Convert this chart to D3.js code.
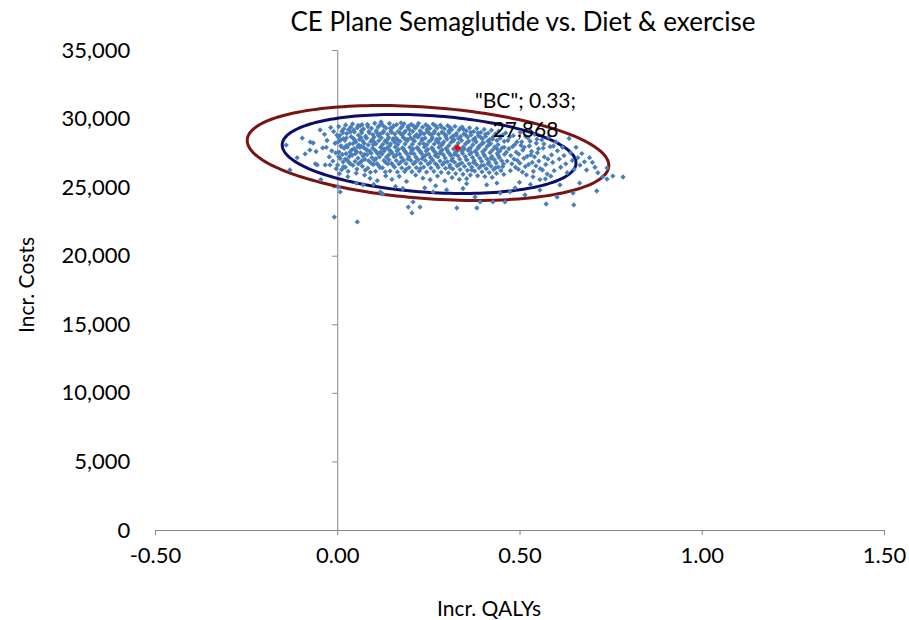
<!DOCTYPE html>
<html>
<head>
<meta charset="utf-8">
<script src="https://cdn.jsdelivr.net/npm/d3@7/dist/d3.min.js"></script>
<style>
  html, body { margin: 0; padding: 0; background: #fff; }
  svg { display: block; }
  text { font-family: Lato, "Open Sans", sans-serif; fill: #000; }
</style>
</head>
<body>
<svg id="chart" width="909" height="620"></svg>
<script>
// ---------------- DATA ----------------
const chartTitle = "CE Plane Semaglutide vs. Diet & exercise";
const xTitle = "Incr. QALYs";
const yTitle = "Incr. Costs";
const xTicks = [-0.5, 0, 0.5, 1.0, 1.5];
const xTickLabels = ["-0.50", "0.00", "0.50", "1.00", "1.50"];
const yTicks = [0, 5000, 10000, 15000, 20000, 25000, 30000, 35000];
const yTickLabels = ["0", "5,000", "10,000", "15,000", "20,000", "25,000", "30,000", "35,000"];

// base case point
const baseCase = [0.33, 27868];
const baseCaseLabel = ['"BC"; 0.33;', '27,868'];

// confidence ellipses: [centerQALY, centerCost, halfWidthQALY, halfHeightCost, tiltCost]
const innerEllipse = [0.252, 27420, 0.403, 2807, -656];
const outerEllipse = [0.249, 27490, 0.496, 3340, -911];

// PSA iterations (QALY, cost)
const leftTail = [
[-0.140,28070],[-0.130,26250],[-0.096,28580],[-0.110,27150],[-0.088,27420],[-0.066,28220],[-0.055,26620],
[-0.047,29170],[-0.040,27860],[-0.033,26620],[-0.020,26620],[-0.028,28400],[-0.015,27650],[-0.010,29050],
[-0.006,28200],[-0.022,27200],[-0.012,26900],[-0.004,27500],[-0.075,27700],[-0.035,28850],[-0.018,29350],
[-0.058,27600],[-0.003,26350],[-0.045,25550],[-0.001,28800],[-0.074,28290],[-0.060,26700],[-0.030,27900]
];
const coreCloud = [
[0.004,29420],[0.013,29080],[0.007,28760],[0.017,28530],[0.002,28290],[0.010,28010],[0.019,27830],[0.005,27560],[0.014,27380],[0.008,27090],[0.016,26840],[0.001,26610],[0.012,26270],[0.018,29250],[0.006,25980],[0.011,27960],[0.003,28650],
[0.023,29530],[0.031,29200],[0.026,28910],[0.038,28680],[0.021,28420],[0.034,28150],[0.028,27920],[0.039,27700],[0.024,27440],[0.033,27230],[0.027,26980],[0.036,26700],[0.022,26450],[0.030,26150],[0.037,29380],[0.025,28020],[0.035,27560],[0.029,25760],
[0.042,29610],[0.055,29330],[0.047,29020],[0.058,28790],[0.044,28560],[0.051,28290],[0.059,28070],[0.046,27810],[0.053,27590],[0.041,27320],[0.057,27110],[0.049,26880],[0.043,26590],[0.054,26320],[0.048,28430],[0.056,27950],[0.045,29180],[0.052,26020],[0.050,27680],
[0.063,29480],[0.072,29240],[0.067,28960],[0.078,28720],[0.061,28480],[0.074,28200],[0.066,27990],[0.079,27760],[0.064,27500],[0.071,27270],[0.076,27030],[0.062,26760],[0.069,26520],[0.077,26240],[0.065,28620],[0.073,27880],[0.068,29550],[0.075,25880],[0.070,28360],
[0.083,29570],[0.094,29290],[0.087,29060],[0.098,28820],[0.081,28590],[0.092,28330],[0.085,28080],[0.097,27850],[0.089,27620],[0.082,27380],[0.095,27150],[0.086,26920],[0.099,26650],[0.084,26380],[0.091,26080],[0.088,28950],[0.096,28470],[0.093,27480],[0.090,25640],
[0.103,29660],[0.112,29380],[0.107,29120],[0.118,28880],[0.101,28640],[0.114,28390],[0.106,28160],[0.119,27910],[0.104,27680],[0.111,27440],[0.116,27200],[0.102,26970],[0.109,26720],[0.117,26430],[0.105,26150],[0.113,28760],[0.108,27560],[0.115,29480],[0.110,25480],
[0.122,29590],[0.134,29310],[0.127,29080],[0.138,28850],[0.121,28600],[0.131,28370],[0.125,28120],[0.137,27880],[0.129,27650],[0.123,27420],[0.135,27190],[0.128,26950],[0.139,26690],[0.124,26410],[0.132,26110],[0.126,28980],[0.136,28250],[0.130,27770],[0.133,25820],[0.120,29750],
[0.143,29640],[0.152,29360],[0.147,29100],[0.158,28870],[0.141,28630],[0.154,28410],[0.146,28150],[0.159,27920],[0.144,27690],[0.151,27460],[0.156,27220],[0.142,26990],[0.149,26740],[0.157,26460],[0.145,26170],[0.153,28530],[0.148,27580],[0.155,29480],[0.150,25560],[0.144,28010],
[0.163,29560],[0.174,29290],[0.167,29050],[0.178,28800],[0.161,28580],[0.172,28340],[0.166,28110],[0.179,27870],[0.164,27640],[0.171,27410],[0.176,27170],[0.162,26940],[0.169,26690],[0.177,26400],[0.165,26110],[0.173,28930],[0.168,27760],[0.175,29690],[0.170,25790],
[0.183,29620],[0.194,29340],[0.187,29090],[0.198,28860],[0.181,28620],[0.192,28380],[0.186,28140],[0.199,27900],[0.184,27670],[0.191,27430],[0.196,27200],[0.182,26960],[0.189,26710],[0.197,26430],[0.185,26140],[0.193,28490],[0.188,27550],[0.195,29450],[0.190,25420],[0.184,28990],
[0.203,29580],[0.214,29300],[0.207,29060],[0.218,28830],[0.201,28590],[0.212,28350],[0.206,28120],[0.219,27880],[0.204,27650],[0.211,27420],[0.216,27180],[0.202,26950],[0.209,26700],[0.217,26420],[0.205,26130],[0.213,28700],[0.208,27780],[0.215,25870],[0.210,29440],
[0.223,29650],[0.234,29370],[0.227,29110],[0.238,28880],[0.221,28640],[0.232,28400],[0.226,28160],[0.239,27930],[0.224,27690],[0.231,27460],[0.236,27220],[0.222,26990],[0.229,26740],[0.237,26460],[0.225,26170],[0.233,28520],[0.228,27600],[0.235,25650],[0.230,29000],
[0.243,29550],[0.254,29280],[0.247,29040],[0.258,28810],[0.241,28570],[0.252,28330],[0.246,28100],[0.259,27860],[0.244,27630],[0.251,27400],[0.256,27160],[0.242,26930],[0.249,26680],[0.257,26400],[0.245,26100],[0.253,28920],[0.248,27750],[0.255,25540],[0.250,29420],
[0.263,29600],[0.274,29320],[0.267,29080],[0.278,28850],[0.261,28610],[0.272,28370],[0.266,28140],[0.279,27900],[0.264,27670],[0.271,27440],[0.276,27200],[0.262,26970],[0.269,26720],[0.277,26440],[0.265,26150],[0.273,28490],[0.268,27560],[0.275,25810],[0.270,29460],
[0.283,29520],[0.294,29250],[0.287,29010],[0.298,28780],[0.281,28540],[0.292,28300],[0.286,28070],[0.299,27830],[0.284,27600],[0.291,27370],[0.296,27130],[0.282,26900],[0.289,26650],[0.297,26370],[0.285,26080],[0.293,28900],[0.288,27710],[0.295,25460],[0.290,28180],
[0.303,29480],[0.314,29200],[0.307,28970],[0.318,28740],[0.301,28500],[0.312,28260],[0.306,28030],[0.319,27790],[0.304,27560],[0.311,27330],[0.316,27090],[0.302,26860],[0.309,26610],[0.317,26330],[0.305,26040],[0.313,28620],[0.308,27450],[0.315,25700],[0.310,29330],
[0.323,29430],[0.334,29160],[0.327,28920],[0.338,28690],[0.321,28450],[0.332,28210],[0.326,27980],[0.339,27740],[0.324,27510],[0.331,27280],[0.336,27040],[0.322,26810],[0.329,26560],[0.337,26280],[0.325,25990],[0.333,28560],[0.328,27620],[0.335,25560],
[0.343,29380],[0.354,29110],[0.347,28870],[0.358,28640],[0.341,28400],[0.352,28160],[0.346,27930],[0.359,27690],[0.344,27460],[0.351,27230],[0.356,26990],[0.342,26760],[0.349,26510],[0.357,26230],[0.345,25940],[0.353,28780],[0.348,27800],[0.355,25620],
[0.363,29320],[0.374,29050],[0.367,28810],[0.378,28580],[0.361,28340],[0.372,28100],[0.366,27870],[0.379,27630],[0.364,27400],[0.371,27170],[0.376,26930],[0.362,26700],[0.369,26450],[0.377,26170],[0.365,25880],[0.373,28460],[0.368,27520],
[0.383,29270],[0.394,29000],[0.387,28760],[0.398,28530],[0.381,28290],[0.392,28050],[0.386,27820],[0.399,27580],[0.384,27350],[0.391,27120],[0.396,26880],[0.382,26650],[0.389,26400],[0.397,26120],[0.385,25830],[0.393,28650],[0.388,27950],
[0.403,29210],[0.414,28940],[0.407,28700],[0.418,28470],[0.401,28230],[0.412,27990],[0.406,27760],[0.419,27520],[0.404,27290],[0.411,27060],[0.416,26820],[0.402,26590],[0.409,26340],[0.417,26060],[0.405,25770],[0.413,28350],
[0.423,29150],[0.434,28880],[0.427,28640],[0.438,28410],[0.421,28170],[0.432,27930],[0.426,27700],[0.439,27460],[0.424,27230],[0.431,27000],[0.436,26760],[0.422,26530],[0.429,26280],[0.437,26000],[0.425,25710],
[0.443,29080],[0.454,28810],[0.447,28570],[0.458,28340],[0.441,28100],[0.452,27860],[0.446,27630],[0.459,27390],[0.444,27160],[0.451,26930],[0.456,26690],[0.442,26460],[0.449,26210],[0.457,25930]
];
const coreFill = [
[0.015,28950],[0.009,28420],[0.004,27230],[0.017,26480],
[0.036,29020],[0.025,28590],[0.038,27360],[0.022,27050],[0.032,26820],
[0.057,29500],[0.043,28180],[0.050,27440],[0.058,26700],
[0.066,29120],[0.079,28590],[0.062,27910],[0.075,27390],[0.068,26930],
[0.084,29420],[0.099,28100],[0.081,27720],[0.093,26750],
[0.108,28990],[0.102,28280],[0.119,27560],[0.113,26590],[0.106,27070],
[0.127,29450],[0.138,28480],[0.122,27870],[0.132,26830],
[0.149,28990],[0.158,28270],[0.141,27350],[0.153,26600],[0.146,29300],
[0.166,28450],[0.178,29410],[0.162,27340],[0.174,26820],
[0.186,28510],[0.198,29190],[0.182,27790],[0.194,27050],[0.189,26300],
[0.208,28450],[0.219,29450],[0.202,27480],[0.214,26820],
[0.226,28800],[0.238,28150],[0.221,27830],[0.233,27080],[0.228,26350],
[0.246,29200],[0.258,28450],[0.242,27320],[0.254,26780],
[0.266,28950],[0.278,28240],[0.262,27800],[0.274,26600],[0.269,27300],
[0.286,29380],[0.298,28650],[0.282,27460],[0.294,26800],
[0.306,29100],[0.318,28380],[0.302,27700],[0.314,26950],[0.309,26450],
[0.326,28780],[0.338,29300],[0.322,27380],[0.334,26650],
[0.346,29220],[0.358,28300],[0.342,27620],[0.354,27000],
[0.366,29000],[0.378,28420],[0.362,27780],[0.374,26800],[0.369,26250],
[0.386,28950],[0.398,28200],[0.382,27500],[0.394,26550],
[0.406,28850],[0.418,28120],[0.402,27400],[0.414,26700],
[0.426,28500],[0.438,27800],[0.422,27100],[0.434,26400],
[0.446,28700],[0.458,27900],[0.442,27300],[0.454,26500]
];
const rightCloud = [
[0.462,28950],[0.468,28400],[0.471,27800],[0.476,27300],[0.479,26700],[0.483,28750],[0.487,28100],[0.491,27550],[0.494,26950],[0.497,26300],
[0.502,29000],[0.506,28300],[0.509,27700],[0.512,27100],[0.516,26500],[0.519,25900],[0.523,28600],[0.527,28000],[0.531,27350],[0.535,26800],
[0.538,26150],[0.542,28850],[0.546,28200],[0.549,27500],[0.553,26900],[0.557,26350],[0.561,28450],[0.565,27850],[0.568,27200],[0.572,26650],
[0.576,25950],[0.580,28650],[0.584,27950],[0.588,27350],[0.591,26800],[0.595,26200],[0.600,28300],[0.604,27650],[0.609,27050],[0.613,26450],
[0.618,27900],[0.622,27300],[0.627,26700],[0.631,26050],[0.636,28550],[0.640,27500],[0.645,26950],[0.650,26300],[0.655,27900],[0.660,27150],
[0.666,26600],[0.671,27450],[0.678,26850],[0.684,26250],[0.692,27150],[0.700,26800],[0.707,26450],[0.715,26050],[0.728,25750],[0.740,26400],
[0.464,27550],[0.466,26900],[0.473,28650],[0.475,26200],[0.481,27950],[0.485,27050],[0.489,26450],[0.493,28300],[0.498,27400],[0.501,26750],
[0.504,28050],[0.508,26100],[0.513,27900],[0.517,28700],[0.521,27250],[0.525,26650],[0.529,28350],[0.533,27600],[0.537,25750],[0.541,27200],
[0.545,26550],[0.548,28500],[0.552,27800],[0.556,25550],[0.563,26250],[0.567,28150],[0.571,25600],[0.578,27050],[0.586,25800],[0.593,28000]
];
const lowerCloud = [
[0.003,25010],[0.008,24650],[0.071,25160],[0.052,25300],[0.118,24650],[0.125,24500],[0.160,25050],[0.195,23550],[0.205,23120],
[0.208,23920],[0.227,23550],[0.263,24650],[0.240,24950],[0.300,24800],[0.328,23480],[0.345,24900],[0.378,24280],[0.392,23920],
[0.383,23480],[0.410,25160],[0.427,23920],[0.438,25300],[0.447,24570],[0.460,23920],[0.474,24650],[0.488,24940],[0.515,24430],
[0.530,25200],[0.556,24790],[0.573,23770],[0.603,24280],[0.611,25160],[0.647,24570],[0.649,23700],[0.665,25300],[0.712,24720],
[0.740,25590],[0.756,25810],[0.784,25740],[0.270,25100],[0.180,24900],[0.100,25200],[0.355,25250],[0.500,25350],
[-0.008,22820],[0.055,22460]
];

// ---------------- CHART ----------------
const svg = d3.select("#chart");
const x = d3.scaleLinear().domain([-0.5, 1.5]).range([155, 884]);
const y = d3.scaleLinear().domain([0, 35000]).range([530, 50]);
const axisColor = "#868686";

// title
svg.append("text").attr("x", 523).attr("y", 21)
  .attr("text-anchor", "middle").attr("dominant-baseline", "central")
  .style("font-size", "26px").text(chartTitle);

// x axis
const gx = svg.append("g").attr("transform", `translate(0,${y(0)})`)
  .call(d3.axisBottom(x).tickValues(xTicks).tickSize(5).tickSizeOuter(0).tickPadding(12)
    .tickFormat((d, i) => xTickLabels[i]));
// y axis (crosses at x = 0, labels at the left of the plot)
const gy = svg.append("g").attr("transform", `translate(${x(0)},0)`)
  .call(d3.axisLeft(y).tickValues(yTicks).tickSize(5).tickSizeOuter(0).tickPadding(202)
    .tickFormat((d, i) => yTickLabels[i]));
[gx, gy].forEach(g => {
  g.selectAll("path.domain").attr("stroke", axisColor).attr("stroke-width", 1);
  g.selectAll(".tick line").attr("stroke", axisColor).attr("stroke-width", 1);
  g.selectAll(".tick text").style("font-size", "22px").style("font-family", "Lato, sans-serif").attr("fill", "#000");
});
gx.selectAll(".tick text").attr("dy", "0.71em");

// axis titles
svg.append("text").attr("x", 489).attr("y", 607)
  .attr("text-anchor", "middle").attr("dominant-baseline", "central")
  .style("font-size", "21px").text(xTitle);
svg.append("text").attr("transform", "translate(25,285) rotate(-90)")
  .attr("text-anchor", "middle").attr("dominant-baseline", "central")
  .style("font-size", "21px").text(yTitle);

// ellipses
const tSteps = d3.range(0, 2 * Math.PI + 0.001, Math.PI / 90);
function ellipsePath(e) {
  const [cx, cy, a, b, k] = e;
  return d3.line()
    .x(t => x(cx + a * Math.cos(t)))
    .y(t => y(cy + b * Math.sin(t) + k * Math.cos(t)))
    .curve(d3.curveLinearClosed)(tSteps);
}
svg.append("path").attr("d", ellipsePath(outerEllipse))
  .attr("fill", "none").attr("stroke", "#7a1414").attr("stroke-width", 3);
svg.append("path").attr("d", ellipsePath(innerEllipse))
  .attr("fill", "none").attr("stroke", "#0d0d6e").attr("stroke-width", 3);

// scatter
const allPoints = [].concat(leftTail, coreCloud, coreFill, rightCloud, lowerCloud);
const diamond = d3.symbol().type(d3.symbolSquare).size(14)();
svg.append("g").selectAll("path").data(allPoints).join("path")
  .attr("d", diamond)
  .attr("transform", d => `translate(${x(d[0])},${y(d[1])}) rotate(45)`)
  .attr("fill", "#4a7ebb");

// base case
svg.append("path").attr("d", d3.symbol().type(d3.symbolSquare).size(26)())
  .attr("transform", `translate(${x(baseCase[0])},${y(baseCase[1])}) rotate(45)`)
  .attr("fill", "#ff0000");
const lbl = svg.append("text").attr("text-anchor", "middle").style("font-size", "21px");
baseCaseLabel.forEach((s, i) => {
  lbl.append("tspan").attr("x", x(baseCase[0]) + 68).attr("y", y(baseCase[1]) - 48 + i * 29)
    .attr("dominant-baseline", "central").text(s);
});
</script>
</body>
</html>
